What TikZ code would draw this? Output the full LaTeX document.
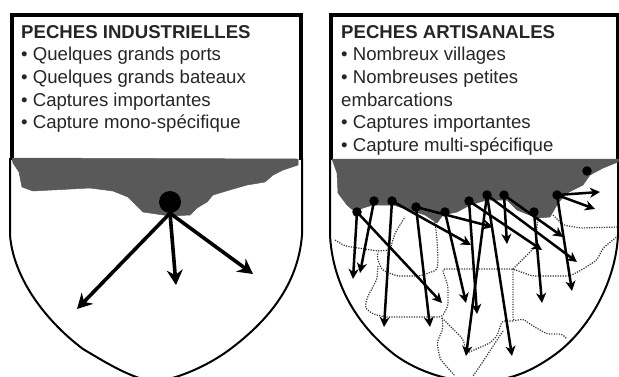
\documentclass[tikz,border=0pt]{standalone}
\usepackage{fontspec}
\setmainfont{Liberation Sans}
\usetikzlibrary{arrows.meta}

\tikzset{
  border/.style={black, line width=2pt},
  panelbox/.style={black, line width=3.8pt},
  coast/.style={fill=black!65, draw=black!65, line width=0.5pt},
  boundary/.style={black!80, line width=1.2pt, dash pattern=on 1.2pt off 1.3pt, rounded corners=3pt},
  portdot/.style={circle, fill=black, inner sep=0pt, minimum size=#1},
  bigarrow/.style={-{Stealth[length=15pt, width=16pt, inset=5pt]}, line width=3.6pt},
  smallarrow/.style={-{Stealth[length=10pt, width=10pt, inset=3pt]}, line width=2.5pt},
  infotext/.style={anchor=north west, align=left, inner sep=0pt, text=black!85,
    font=\fontsize{18.6}{22.7}\selectfont}
}

\begin{document}
\begin{tikzpicture}[x=1pt, y=-1pt]
  \useasboundingbox (0,0) rectangle (619,376);
  \clip (0,0) rectangle (619,376);

  % Industrial fisheries
  \draw[panelbox] (12,160) -- (12,15) -- (301,15) -- (301,160);
  \draw[border] (10,158) -- (10,235) .. controls (13,275) and (42,318) .. (83,349)
    .. controls (105,362) and (130,378) .. (155,382) .. controls (180,378) and (210,365) .. (233,347)
    .. controls (268,320) and (298,285) .. (302,235) -- (302,158);
  \fill[coast] (12,158) -- (298,159) -- (298,165) -- (283,170) -- (273,175) -- (265,182)
    -- (247,185) -- (233,189) -- (213,195) -- (207,202) -- (197,208) -- (190,215)
    -- (170,216) -- (143,212) -- (138,207) -- (128,197) -- (113,191) -- (90,188)
    -- (33,191) -- (22,187) -- (19,172) -- (13,163) -- cycle;
  \node[infotext] (indtext) at (21,25) {\textbf{PECHES INDUSTRIELLES}\\
    • Quelques grands ports\\
    • Quelques grands bateaux\\
    • Captures importantes\\
    • Capture mono-spécifique};

  \node[portdot=22pt] (bigport) at (170,202) {};
  \foreach \x/\y in {77/309, 176/285, 253/274}
    \draw[bigarrow] (bigport.south) -- (\x,\y);

  % Artisanal fisheries: districts
  \draw[boundary] (335,240) -- (345,246) -- (358,248) -- (378,251) -- (390,250) -- (395,233) -- (405,217);
  \draw[boundary] (435,222) -- (437,240) -- (438,260) -- (437,270) -- (420,276) -- (397,276) -- (382,270) -- (377,258) -- (378,252);
  \draw[boundary] (378,266) -- (377,279) -- (367,298) -- (365,308) -- (373,314) -- (385,317) -- (442,317)
    -- (448,306) -- (448,286) -- (442,269) -- (513,269) -- (532,276) -- (570,276) -- (583,269) -- (597,260) -- (603,248) -- (619,235);
  \draw[boundary] (513,269) -- (535,247) -- (538,218);
  \draw[boundary] (513,269) -- (513,321) -- (523,319) -- (533,326) -- (547,334) -- (562,334) -- (567,339);
  \draw[boundary] (513,321) -- (502,321) -- (497,336) -- (490,343) -- (467,353);
  \draw[boundary] (503,331) -- (480,366) -- (473,376);
  \draw[boundary] (442,318) -- (453,329) -- (463,339) -- (466,351);
  \draw[boundary] (442,318) -- (443,328) -- (437,343) -- (440,359) -- (455,376);
  \draw[boundary] (553,215) -- (563,225) -- (580,228) -- (618,227);

  % Artisanal fisheries: shield
  \draw[panelbox] (331,160) -- (331,15) -- (618,15) -- (618,160);
  \draw[border] (330,158) -- (330,235) .. controls (332,275) and (350,320) .. (395,355)
    .. controls (420,373) and (450,381) .. (475,382) .. controls (510,381) and (530,372) .. (553,356)
    .. controls (590,330) and (616,280) .. (618,235) -- (618,158);
  \fill[coast] (332,159) -- (619,159) -- (618,162) -- (603,168) -- (590,175) -- (583,185)
    -- (567,193) -- (558,203) -- (550,217) -- (537,218) -- (517,210) -- (507,200) -- (487,200)
    -- (470,205) -- (457,212) -- (443,215) -- (437,223) -- (425,215) -- (410,210) -- (393,205)
    -- (373,205) -- (363,208) -- (355,212) -- (347,205) -- (338,193) -- (337,173) -- cycle;
  \node[infotext] (arttext) at (341,25) {\textbf{PECHES ARTISANALES}\\
    • Nombreux villages\\
    • Nombreuses petites\\
    embarcations\\
    • Captures importantes\\
    • Capture multi-spécifique};

  % Villages
  \foreach \name/\x/\y in {a/357/212, b/374/201, c/392/201, d/416/207, e/445/212, f/469/201,
      g/487/195, h/504/195, i/534/212, j/557/195, k/587/171}
    \node[portdot=9.5pt] (\name) at (\x,\y) {};

  \foreach \name/\x/\y in {a/353/279, a/442/303, b/360/273, c/384/327, c/471/245, d/430/327,
      d/493/227, e/466/303, f/477/314, f/542/250, g/466/356, g/512/356, g/577/262,
      h/507/244, h/563/237, i/542/303, j/572/291, j/600/192, j/595/209}
    \draw[smallarrow] (\name.center) -- (\x,\y);
\end{tikzpicture}
\end{document}
